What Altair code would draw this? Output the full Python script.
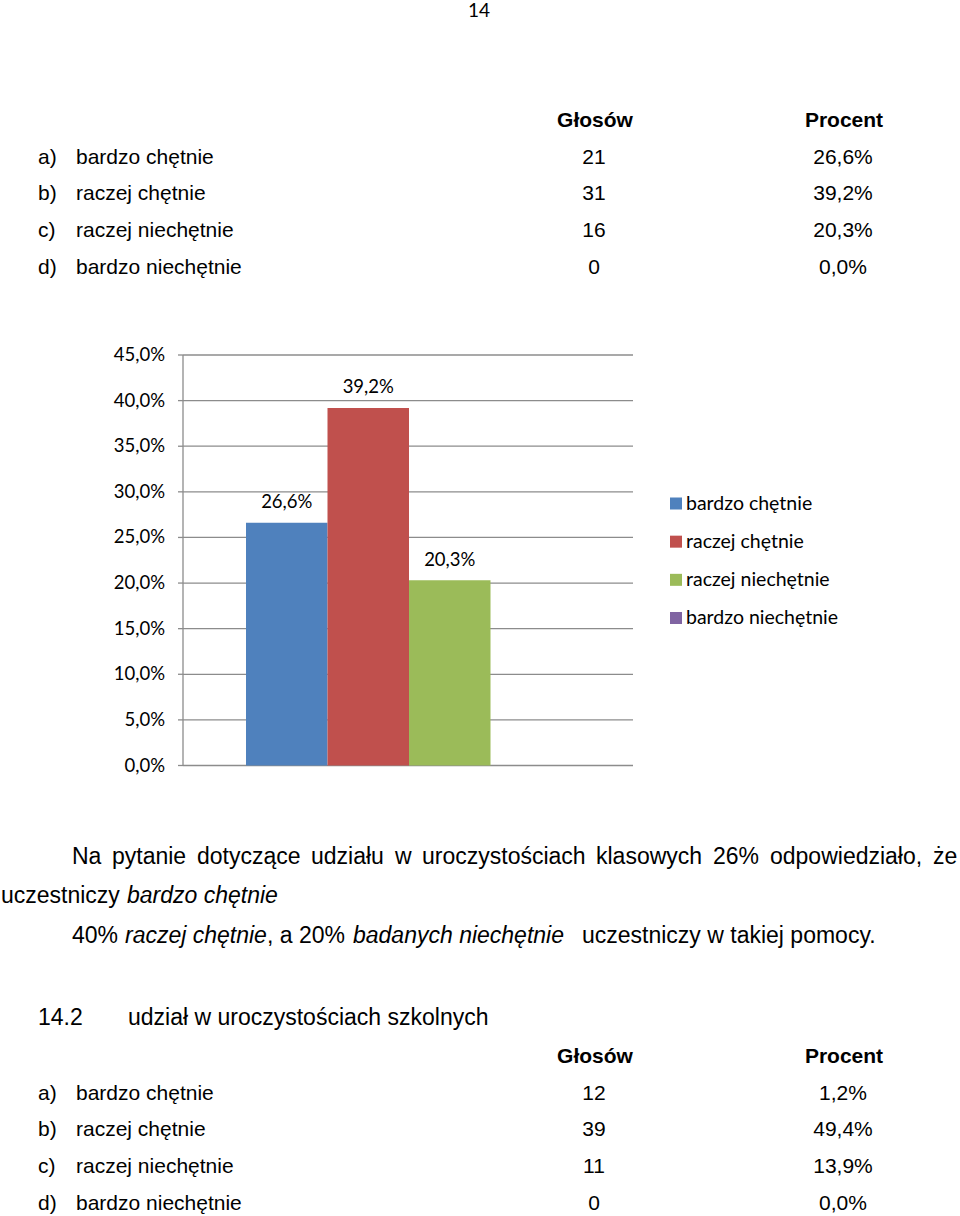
import altair as alt
import pandas as pd

# ---------------- data ----------------
PAGE_NUMBER = "14"
HEADERS = ["Głosów", "Procent"]
LETTERS = ["a)", "b)", "c)", "d)"]
ANSWERS = ["bardzo chętnie", "raczej chętnie", "raczej niechętnie", "bardzo niechętnie"]
VOTES_1 = [21, 31, 16, 0]
PCT_1 = [26.6, 39.2, 20.3, 0.0]
VOTES_2 = [12, 39, 11, 0]
PCT_2 = [1.2, 49.4, 13.9, 0.0]
Y_TICKS = [0, 5, 10, 15, 20, 25, 30, 35, 40, 45]
COLORS = ["#4F81BD", "#C0504D", "#9BBB59", "#8064A2"]
PARA_LINE1 = ["Na", "pytanie", "dotyczące", "udziału", "w", "uroczystościach",
              "klasowych", "26%", "odpowiedziało,", "że"]
PARA_LINE2 = ["uczestniczy", "bardzo chętnie"]
PARA_LINE2_ITALIC = [False, True]
PARA_LINE3 = ["40%", "raczej chętnie", ", a 20%", "badanych niechętnie",
              "uczestniczy w takiej pomocy."]
PARA_LINE3_ITALIC = [False, True, False, True, False]
SECTION = ["14.2", "udział w uroczystościach szkolnych"]


def fmt(v):
    return f"{v:.1f}".replace(".", ",") + "%"


# ---------------- layout / style ----------------
BODY_FONT = "Liberation Sans"
BODY_SIZE = 21
PARA_SIZE = 23
CHART_FONT = "Lato"
AXIS_SIZE = 18.5
LEGEND_SIZE = 19.5
GRID_COLOR = "#8c8c8c"
ROW_GAP = 36.7
LINE1_X = [72, 112, 197, 311, 395, 422, 596, 713, 770, 933]
LINE2_X = [1, 127]
LINE3_X = [72, 125, 267, 353, 582]
PARA_Y = [857, 896, 936]


def txt(s, x, y, align="left", size=BODY_SIZE, font=BODY_FONT, weight="normal",
        style="normal", color="#000000", baseline="middle"):
    return alt.Chart(pd.DataFrame({"t": [s]})).mark_text(
        align=align, baseline=baseline, font=font, fontSize=size,
        fontWeight=weight, fontStyle=style, color=color
    ).encode(text="t:N", x=alt.value(x), y=alt.value(y))


def table(votes, pct, header_y):
    df = pd.DataFrame({
        "row": list(range(4)),
        "letter": LETTERS,
        "answer": ANSWERS,
        "votes": [str(v) for v in votes],
        "pct": [fmt(p) for p in pct],
    })
    yenc = alt.Y("row:Q", axis=None,
                 scale=alt.Scale(domain=[0, 3], nice=False, zero=False,
                                 range=[header_y + ROW_GAP, header_y + 4 * ROW_GAP]))
    base = alt.Chart(df).encode(y=yenc)
    common = dict(baseline="middle", font=BODY_FONT, fontSize=BODY_SIZE, color="#000000")
    rows = alt.layer(
        base.mark_text(align="left", **common).encode(x=alt.value(38), text="letter:N"),
        base.mark_text(align="left", **common).encode(x=alt.value(76), text="answer:N"),
        base.mark_text(align="center", **common).encode(x=alt.value(594), text="votes:N"),
        base.mark_text(align="center", **common).encode(x=alt.value(843), text="pct:N"),
    )
    heads = alt.layer(
        txt(HEADERS[0], 595, header_y, align="center", weight="bold"),
        txt(HEADERS[1], 844, header_y, align="center", weight="bold"),
    )
    return alt.layer(rows, heads)


# ---------------- bar chart ----------------
yscale = alt.Scale(domain=[0, 45], range=[765.5, 355], nice=False, zero=True)
xscale = alt.Scale(domain=ANSWERS, range=[246, 572], paddingInner=0, paddingOuter=0)
cscale = alt.Scale(domain=ANSWERS, range=COLORS)

bars_df = pd.DataFrame({"answer": ANSWERS, "pct": PCT_1,
                        "label": [fmt(p) for p in PCT_1]})
grid_df = pd.DataFrame({"tick": Y_TICKS, "label": [fmt(t) for t in Y_TICKS]})

grid = alt.Chart(grid_df).mark_rule(color=GRID_COLOR, strokeWidth=1.3).encode(
    y=alt.Y("tick:Q", scale=yscale, axis=None), x=alt.value(183), x2=alt.value(633))
tick_marks = alt.Chart(grid_df).mark_rule(color=GRID_COLOR, strokeWidth=1.3).encode(
    y=alt.Y("tick:Q", scale=yscale, axis=None), x=alt.value(178), x2=alt.value(183))
axis_line = alt.Chart(grid_df).mark_rule(color=GRID_COLOR, strokeWidth=1.3).encode(
    y=alt.Y("min(tick):Q", scale=yscale, axis=None), y2="max(tick):Q", x=alt.value(183))
axis_labels = alt.Chart(grid_df).mark_text(
    align="right", baseline="middle", font=CHART_FONT, fontSize=AXIS_SIZE, color="#000000"
).encode(y=alt.Y("tick:Q", scale=yscale, axis=None), x=alt.value(165), text="label:N")

bars = alt.Chart(bars_df).mark_bar().encode(
    x=alt.X("answer:N", scale=xscale, axis=None),
    y=alt.Y("pct:Q", scale=yscale, axis=None),
    color=alt.Color("answer:N", scale=cscale, legend=None),
)
bar_labels = alt.Chart(bars_df).transform_filter("datum.pct > 0").mark_text(
    baseline="middle", dy=-20.5, font=CHART_FONT, fontSize=AXIS_SIZE, color="#000000"
).encode(
    x=alt.X("answer:N", scale=xscale, axis=None),
    y=alt.Y("pct:Q", scale=yscale, axis=None),
    text="label:N",
)
chart_block = alt.layer(grid, tick_marks, axis_line, axis_labels, bars, bar_labels)

# legend
leg_df = pd.DataFrame({"answer": ANSWERS})
leg_y = alt.Y("answer:N", axis=None,
              scale=alt.Scale(domain=ANSWERS, range=[503.5, 618], padding=0))
legend_block = alt.layer(
    alt.Chart(leg_df).mark_square(size=144, opacity=1, filled=True).encode(
        x=alt.value(676), y=leg_y,
        color=alt.Color("answer:N", scale=cscale, legend=None)),
    alt.Chart(leg_df).mark_text(
        align="left", baseline="middle", font=CHART_FONT, fontSize=LEGEND_SIZE,
        color="#000000").encode(x=alt.value(686), y=leg_y, text="answer:N"),
)

# ---------------- paragraph and headings ----------------
para_layers = []
for w, x in zip(PARA_LINE1, LINE1_X):
    para_layers.append(txt(w, x, PARA_Y[0], size=PARA_SIZE))
for w, it, x in zip(PARA_LINE2, PARA_LINE2_ITALIC, LINE2_X):
    para_layers.append(txt(w, x, PARA_Y[1], size=PARA_SIZE,
                           style="italic" if it else "normal"))
for w, it, x in zip(PARA_LINE3, PARA_LINE3_ITALIC, LINE3_X):
    para_layers.append(txt(w, x, PARA_Y[2], size=PARA_SIZE,
                           style="italic" if it else "normal"))

page_num = txt(PAGE_NUMBER, 479, 17, align="center", font=CHART_FONT, size=19,
               baseline="alphabetic")
section = alt.layer(txt(SECTION[0], 38, 1018, size=PARA_SIZE),
                    txt(SECTION[1], 128, 1018, size=PARA_SIZE))

chart = alt.layer(
    page_num,
    table(VOTES_1, PCT_1, 121),
    chart_block,
    legend_block,
    *para_layers,
    section,
    table(VOTES_2, PCT_2, 1057),
).resolve_scale(
    x="independent", y="independent", color="independent"
).properties(
    width=960, height=1216, padding=0,
    autosize=alt.AutoSizeParams(type="none"),
    background="white",
).configure_view(stroke=None)

chart.save("out.html", embed_options={"renderer": "svg", "actions": False})
